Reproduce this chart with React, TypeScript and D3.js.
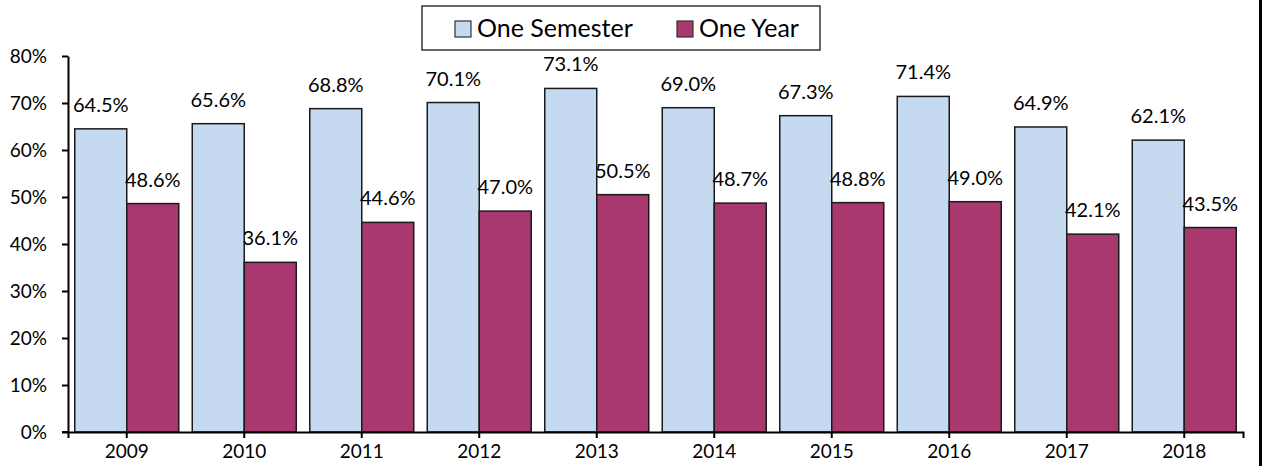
import React, { useEffect, useRef } from "react";
import * as d3 from "d3";

const years = ["2009", "2010", "2011", "2012", "2013", "2014", "2015", "2016", "2017", "2018"];
const oneSemester = [64.5, 65.6, 68.8, 70.1, 73.1, 69.0, 67.3, 71.4, 64.9, 62.1];
const oneYear = [48.6, 36.1, 44.6, 47.0, 50.5, 48.7, 48.8, 49.0, 42.1, 43.5];
const seriesNames = ["One Semester", "One Year"];
const seriesColors = ["#C5D9F1", "#A8386E"];
const yTicks = [0, 10, 20, 30, 40, 50, 60, 70, 80];

const WIDTH = 1266;
const HEIGHT = 466;
const FONT = "Lato, 'Open Sans', sans-serif";

export default function App() {
  const svgRef = useRef<SVGSVGElement>(null);

  useEffect(() => {
    if (!svgRef.current) return;
    const svg = d3.select(svgRef.current);
    svg.selectAll("*").remove();

    const left = 68;
    const right = 1243;
    const top = 56;
    const bottom = 432;

    const x = d3.scaleBand<string>().domain(years).range([left, right]).paddingInner(0.115).paddingOuter(0.0575);
    const xs = d3.scaleBand<string>().domain(seriesNames).range([0, x.bandwidth()]).padding(0);
    const y = d3.scaleLinear().domain([0, 80]).range([bottom, top]);

    const rows = years.map((yr, i) => ({ year: yr, values: [oneSemester[i], oneYear[i]] }));

    // bars
    const groups = svg
      .append("g")
      .selectAll("g")
      .data(rows)
      .join("g")
      .attr("transform", (d) => `translate(${x(d.year)},0)`);

    groups
      .selectAll("rect")
      .data((d) => d.values.map((v, k) => ({ v, k })))
      .join("rect")
      .attr("x", (d) => xs(seriesNames[d.k])!)
      .attr("y", (d) => y(d.v))
      .attr("width", xs.bandwidth())
      .attr("height", (d) => bottom - y(d.v))
      .attr("fill", (d) => seriesColors[d.k])
      .attr("stroke", "#1a1a1a")
      .attr("stroke-width", 1.5);

    groups
      .selectAll("text")
      .data((d) => d.values.map((v, k) => ({ v, k })))
      .join("text")
      .attr("x", (d) => xs(seriesNames[d.k])! + xs.bandwidth() / 2)
      .attr("y", (d) => y(d.v) - 17)
      .attr("text-anchor", "middle")
      .style("font-family", FONT)
      .style("font-size", "20px")
      .attr("fill", "#000")
      .text((d) => d.v.toFixed(1) + "%");

    // y axis
    const yAxis = svg
      .append("g")
      .attr("transform", `translate(${left},0)`)
      .call(
        d3
          .axisLeft(y)
          .tickValues(yTicks)
          .tickSize(6)
          .tickSizeOuter(0)
          .tickPadding(15)
          .tickFormat((d) => d + "%")
      );
    yAxis.selectAll("path, line").attr("stroke", "#000").attr("stroke-width", 2);
    yAxis.selectAll("text").style("font-family", FONT).style("font-size", "19px").attr("fill", "#000");

    // x axis (line runs on to meet the 0% tick)
    const xAxis = svg
      .append("g")
      .attr("transform", `translate(0,${bottom})`)
      .call(d3.axisBottom(x).tickSize(6).tickSizeOuter(6).tickPadding(7));
    xAxis.selectAll("path, line").attr("stroke", "#000").attr("stroke-width", 2);
    xAxis
      .append("line")
      .attr("x1", left - 6)
      .attr("x2", left)
      .attr("stroke", "#000")
      .attr("stroke-width", 2);
    xAxis.selectAll("text").style("font-family", FONT).style("font-size", "19px").attr("fill", "#000");

    // legend
    const legend = svg.append("g");
    legend
      .append("rect")
      .attr("x", 422)
      .attr("y", 6)
      .attr("width", 398)
      .attr("height", 44)
      .attr("fill", "#fff")
      .attr("stroke", "#333")
      .attr("stroke-width", 1.5);
    const legendX = [455, 677];
    seriesNames.forEach((name, k) => {
      legend
        .append("rect")
        .attr("x", legendX[k])
        .attr("y", 21)
        .attr("width", 16)
        .attr("height", 16)
        .attr("fill", seriesColors[k])
        .attr("stroke", "#333")
        .attr("stroke-width", 1.2);
      legend
        .append("text")
        .attr("x", legendX[k] + 22)
        .attr("y", 37)
        .style("font-family", FONT)
        .style("font-size", "25px")
        .attr("fill", "#000")
        .text(name);
    });

    // right frame edge
    svg
      .append("line")
      .attr("x1", 1260.5)
      .attr("x2", 1260.5)
      .attr("y1", 0)
      .attr("y2", HEIGHT)
      .attr("stroke", "#000")
      .attr("stroke-width", 3);
  }, []);

  return (
    <div style={{ position: "fixed", left: 0, top: 0, width: WIDTH, height: HEIGHT, background: "#fff" }}>
      <svg ref={svgRef} width={WIDTH} height={HEIGHT} />
    </div>
  );
}
